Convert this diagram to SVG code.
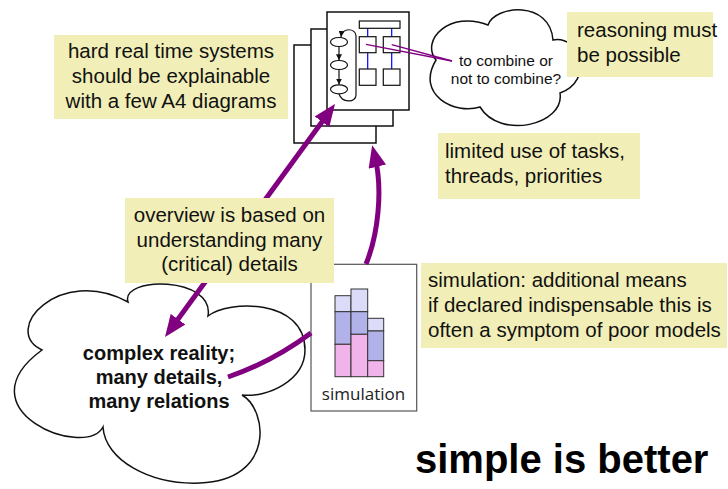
<svg xmlns="http://www.w3.org/2000/svg" width="728" height="489" viewBox="0 0 728 489">
<style>
.note{fill:#f1efb7;stroke:none}
.t{font-family:"Liberation Sans",Arial,sans-serif;font-size:20.5px;fill:#111}
.page{fill:#fff;stroke:#111;stroke-width:1.5}
.cloud{fill:#fff;stroke:#111;stroke-width:1.5}
.conn{fill:none;stroke:#800080;stroke-width:5}
.thin{fill:none;stroke:#800080;stroke-width:1.3}
.box{fill:#fff;stroke:#111;stroke-width:1.2}
.bar{stroke:#333;stroke-width:1}
</style>
<defs>
<marker id="ah" markerUnits="userSpaceOnUse" markerWidth="22" markerHeight="18" viewBox="0 0 22 18" refX="10" refY="9" orient="auto-start-reverse">
<path d="M0,0 L22,9 L0,18 z" fill="#800080"/>
</marker>
<marker id="sa" markerUnits="userSpaceOnUse" markerWidth="6" markerHeight="6" viewBox="0 0 6 6" refX="6" refY="3" orient="auto">
<path d="M0,0 L6,3 L0,6 z" fill="#111"/>
</marker>
</defs>

<g id="cloud-reality">
<path class="cloud" d="M42,350 C0,330 60,265 128,302 C120,276 215,276 208,316 C228,300 305,298 305,350 C305,380 268,398 242,395 C268,410 275,480 200,483 C150,485 105,460 103,427 C85,460 -40,410 42,350 Z"/>
<text class="t" style="font-weight:bold;font-size:20px" text-anchor="middle"><tspan x="159" y="360">complex reality;</tspan><tspan x="159" y="384">many details,</tspan><tspan x="159" y="408">many relations</tspan></text>
</g>

<g id="cloud-combine">
<path class="cloud" d="M436,60 C420,40 450,10 488,25 C495,5 550,0 553,40 C580,35 595,80 560,93 C565,125 500,140 480,107 C455,115 415,95 436,60 Z"/>
<text class="t" style="font-size:15.5px" text-anchor="middle"><tspan x="506" y="66">to combine or</tspan><tspan x="506" y="84">not to combine?</tspan></text>
</g>

<g id="pages">
<rect class="page" x="294" y="45" width="82" height="98"/>
<rect class="page" x="311" y="29" width="82" height="97"/>
<rect class="page" x="327" y="12" width="82" height="98"/>
<line x1="367.7" y1="28" x2="367.7" y2="69" stroke="#0000ff" stroke-width="1.2"/>
<line x1="391.7" y1="28" x2="391.7" y2="69" stroke="#0000ff" stroke-width="1.2"/>
<rect class="box" x="359.3" y="21" width="40.7" height="7.3"/>
<rect class="box" x="359.3" y="36.7" width="16.7" height="16"/>
<rect class="box" x="383.3" y="36.7" width="16.7" height="16"/>
<rect class="box" x="359.3" y="69" width="16.7" height="16.3"/>
<rect class="box" x="383.3" y="69" width="16.7" height="16.3"/>
<ellipse class="box" cx="339" cy="42" rx="8.5" ry="4.5"/>
<ellipse class="box" cx="339" cy="65" rx="8.5" ry="4.5"/>
<ellipse class="box" cx="339" cy="89.3" rx="8.5" ry="4.5"/>
<line x1="339" y1="46.5" x2="339" y2="60.3" stroke="#111" stroke-width="1.2" marker-end="url(#sa)"/>
<line x1="339" y1="69.5" x2="339" y2="84.6" stroke="#111" stroke-width="1.2" marker-end="url(#sa)"/>
<path d="M339,94 C342,103 356,103 356,95 L356,36 C356,28 342,27 341,37" fill="none" stroke="#111" stroke-width="1.2" marker-end="url(#sa)"/>
</g>

<g id="simulation">
<rect x="311" y="264.3" width="105.7" height="146.7" fill="#fff" stroke="#555" stroke-width="1.2"/>
<rect class="bar" x="335" y="295.7" width="16" height="16" fill="#dcdcf8"/>
<rect class="bar" x="335" y="311.7" width="16" height="32.6" fill="#b2b2ea"/>
<rect class="bar" x="335" y="344.3" width="16" height="32.4" fill="#f0b4ea"/>
<rect class="bar" x="351" y="289" width="16.7" height="22.7" fill="#dcdcf8"/>
<rect class="bar" x="351" y="311.7" width="16.7" height="22.6" fill="#b2b2ea"/>
<rect class="bar" x="351" y="334.3" width="16.7" height="42.4" fill="#f0b4ea"/>
<rect class="bar" x="367.7" y="318.3" width="16" height="12.7" fill="#dcdcf8"/>
<rect class="bar" x="367.7" y="331" width="16" height="29.7" fill="#b2b2ea"/>
<rect class="bar" x="367.7" y="360.7" width="16" height="16" fill="#f0b4ea"/>
<text x="363.5" y="400" text-anchor="middle" style="font-family:'Open Sans','Noto Sans',sans-serif;font-size:17px;fill:#222">simulation</text>
</g>

<g id="connectors">
<line class="thin" x1="366" y1="44.3" x2="452" y2="61"/>
<line class="thin" x1="391.7" y1="44.7" x2="452" y2="61"/>
<path class="conn" d="M327.9,113.7 L172.1,327.3" marker-start="url(#ah)" marker-end="url(#ah)"/>
<path class="conn" d="M366,264 C378,235 383,190 375,157" marker-end="url(#ah)"/>
<path class="conn" d="M228,377 Q272,362 311,333"/>
</g>

<g id="note-a4">
<rect class="note" x="54" y="35" width="234" height="84"/>
<text class="t" text-anchor="middle"><tspan x="171" y="58">hard real time systems</tspan><tspan x="171" y="83">should be explainable</tspan><tspan x="171" y="108">with a few A4 diagrams</tspan></text>
</g>

<g id="note-reasoning">
<rect class="note" x="567" y="12" width="146" height="65"/>
<text class="t"><tspan x="577" y="37">reasoning must</tspan><tspan x="577" y="62">be possible</tspan></text>
</g>

<g id="note-tasks">
<rect class="note" x="438" y="133" width="202" height="66"/>
<text class="t"><tspan x="445" y="158">limited use of tasks,</tspan><tspan x="445" y="183">threads, priorities</tspan></text>
</g>

<g id="note-overview">
<rect class="note" x="125" y="198" width="209" height="85"/>
<text class="t" text-anchor="middle"><tspan x="229.5" y="222">overview is based on</tspan><tspan x="229.5" y="247">understanding many</tspan><tspan x="229.5" y="271">(critical) details</tspan></text>
</g>

<g id="note-simulation">
<rect class="note" x="421" y="263" width="306" height="85"/>
<text class="t"><tspan x="428" y="287">simulation: additional means</tspan><tspan x="428" y="312">if declared indispensable this is</tspan><tspan x="428" y="337">often a symptom of poor models</tspan></text>
</g>

<g id="title">
<text x="415" y="473" style="font-family:'Liberation Sans',Arial,sans-serif;font-size:40px;font-weight:bold;fill:#000">simple is better</text>
</g>
</svg>
